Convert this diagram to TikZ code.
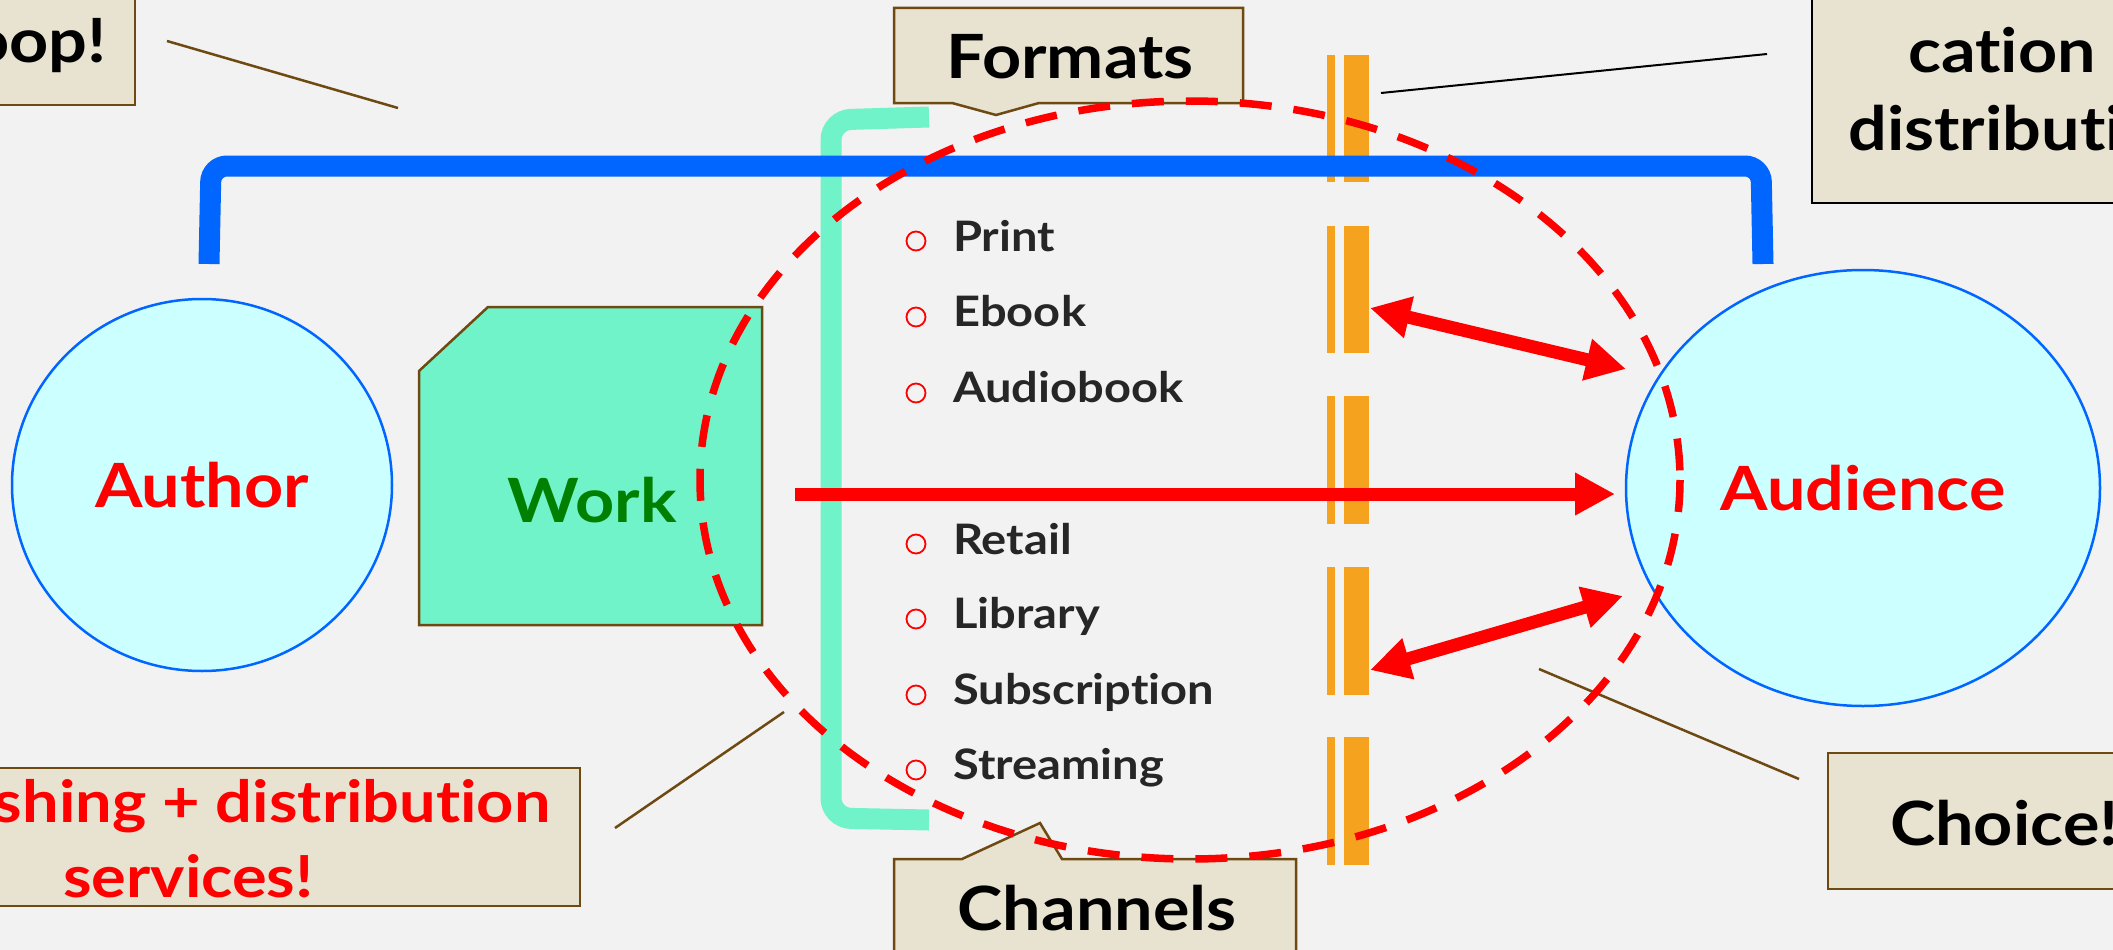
\documentclass[tikz,border=0pt]{standalone}
\usepackage{fontspec}
\setmainfont{Lato}[Ligatures=NoCommon, BoldFeatures={FakeStretch=1.12, Ligatures=NoCommon}]
\usetikzlibrary{arrows.meta,shapes.geometric}
\definecolor{bg}{HTML}{F2F2F2}
\definecolor{callfill}{HTML}{E8E2D0}
\definecolor{callbrown}{HTML}{6E4A12}
\definecolor{cyanfill}{HTML}{CCFFFF}
\definecolor{bluel}{HTML}{0066FF}
\definecolor{teal}{HTML}{70F3C8}
\definecolor{orangebar}{HTML}{F5A21F}
\definecolor{redc}{HTML}{FF0000}
\definecolor{greenw}{HTML}{008000}
\definecolor{listgray}{HTML}{262626}
\tikzset{
  bigtext/.style={font=\fontsize{61}{74}\selectfont\bfseries, inner sep=0pt},
  redtext/.style={font=\fontsize{58}{70}\selectfont\bfseries, text=redc, inner sep=0pt},
  listtext/.style={font=\fontsize{42}{50}\selectfont\bfseries, text=listgray, inner sep=0pt, anchor=base west},
  callbox/.style={fill=callfill, draw=callbrown, line width=2.5pt, line join=miter},
  callline/.style={draw=callbrown, line width=2.5pt},
  bulletc/.style={circle, draw=redc, line width=1.8pt, minimum size=19pt, inner sep=0pt},
  orangeb/.style={fill=orangebar},
  bigarrow/.style={draw=redc, line width=13pt, -{Triangle[length=40pt,width=40pt]}},
  dblarrow/.style={draw=redc, line width=13pt, {Triangle[length=40pt,width=40pt]}-{Triangle[length=40pt,width=40pt]}},
  actor/.style={ellipse, fill=cyanfill, draw=bluel, line width=2.5pt, text=redc, font=\fontsize{61}{74}\selectfont\bfseries, inner sep=0pt}
}
\begin{document}
\begin{tikzpicture}[x=1pt,y=-1pt]
\useasboundingbox (0,0) rectangle (2113,950);
\clip (0,0) rectangle (2113,950);
\fill[bg] (0,0) rectangle (2113,950);

% callout lines
\coordinate (tlA) at (167,41);
\coordinate (tlB) at (398,108);
\draw[callline] (tlA) -- (tlB);
\coordinate (trA) at (1381,93);
\coordinate (trB) at (1767,54);
\draw[draw=black, line width=2pt] (trA) -- (trB);
\coordinate (blA) at (615,828);
\coordinate (blB) at (784,712);
\draw[callline] (blA) -- (blB);
\coordinate (brA) at (1539,669);
\coordinate (brB) at (1799,779);
\draw[callline] (brA) -- (brB);

% callout boxes
\draw[callbox] (-10,-10) rectangle (135,105);
\node[bigtext, anchor=base east] (loop) at (107,63) {oop!};

\draw[callbox, draw=black] (1812,-10) rectangle (2125,203);
\node[bigtext, anchor=base] (cation) at (2002,73) {cation};
\node[bigtext, anchor=base west] (distr) at (1848,150) {distributi};

\draw[callbox] (-10,768) rectangle (580,906);
\node[redtext, anchor=base east] (pub1) at (551,822) {shing + distribution};
\node[redtext, anchor=base west] (pub2) at (63,897) {services!};

\draw[callbox] (1828,753) rectangle (2125,889);
\node[bigtext, anchor=base west] (choice) at (1890,845) {Choice!};

\draw[callbox] (894,8) -- (1243,8) -- (1243,103) -- (1039,103) -- (996,115) -- (952,103) -- (894,103) -- cycle;
\node[bigtext, anchor=base] (formats) at (1070,79) {Formats};

\draw[callbox] (894,960) -- (894,859) -- (962,859) -- (1040,823) -- (1062,859) -- (1296,859) -- (1296,960);
\node[bigtext, anchor=base] (channels) at (1097,930) {Channels};

% actors
\node[actor, minimum width=380pt, minimum height=372pt] (author) at (202,485) {Author};
\node[actor, minimum width=474pt, minimum height=436pt] (audience) at (1863,488) {Audience};

% work
\draw[fill=teal, draw=callbrown, line width=2.5pt] (419,371) -- (488,307) -- (762,307) -- (762,625) -- (419,625) -- cycle;
\node[bigtext, text=greenw, anchor=base] (work) at (592,522) {Work};

% teal bracket
\coordinate (tbTop) at (929,117);
\coordinate (tbBot) at (929,820);
\draw[teal, line width=21pt, rounded corners=20pt] (tbTop) -- (831,120) -- (831,818) -- (tbBot);

% orange bars
\foreach \ya/\yb in {55/182, 226/353, 396/524, 567/695, 737/865} {
  \fill[orangeb] (1327,\ya) rectangle (1335,\yb);
  \fill[orangeb] (1344,\ya) rectangle (1369,\yb);
}

% blue bracket
\coordinate (bbL) at (209,264);
\coordinate (bbR) at (1763,264);
\draw[bluel, line width=21pt, rounded corners=16pt] (bbL) -- (211,166) -- (1761,166) -- (bbR);

% list
\foreach \yc/\yb/\t [count=\i] in {241/251/Print, 317/326/Ebook, 393/402/Audiobook, 544/554/Retail, 619/628/Library, 695/704/Subscription, 770/779/Streaming} {
  \node[bulletc] (b\i) at (916,\yc) {};
  \node[listtext] (item\i) at (953,\yb) {\t};
}

% arrows
\coordinate (mA) at (795,494);
\coordinate (mB) at (1615,494);
\draw[bigarrow] (mA) -- (mB);
\coordinate (uA) at (1370,308);
\coordinate (uB) at (1626,369);
\draw[dblarrow] (uA) -- (uB);
\coordinate (lA) at (1370,670);
\coordinate (lB) at (1623,596);
\draw[dblarrow] (lA) -- (lB);

% dashed ellipse
\draw[redc, line width=7.5pt, dash pattern=on 32pt off 22pt] (1190,480) ellipse [x radius=490, y radius=379];
\end{tikzpicture}
\end{document}
